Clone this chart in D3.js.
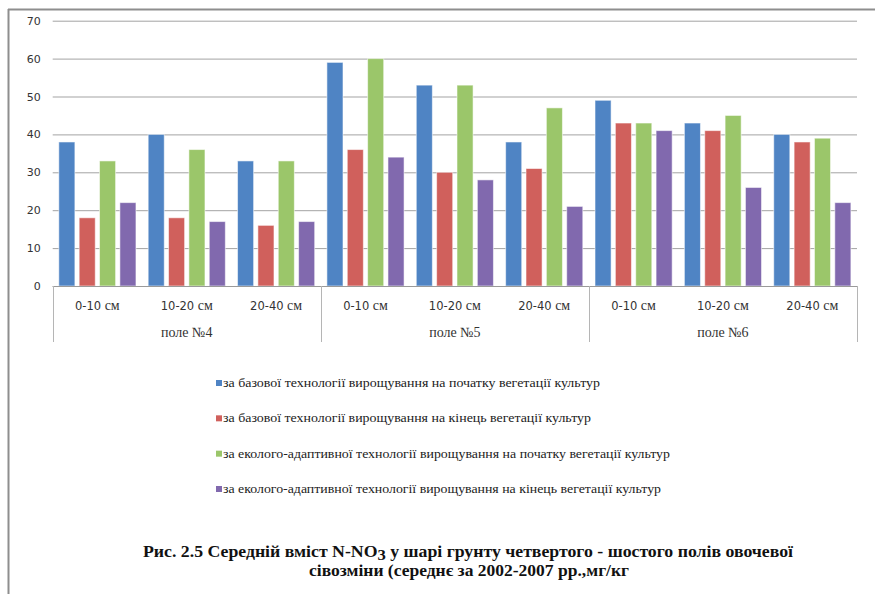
<!DOCTYPE html>
<html>
<head>
<meta charset="utf-8">
<script src="https://cdn.jsdelivr.net/npm/d3@7"></script>
<style>
  html, body { margin: 0; padding: 0; background: #fff; }
  svg { display: block; }
</style>
</head>
<body>
<svg id="chart" width="875" height="594"></svg>
<script>
// Depth layers within each field, and the fields themselves
const layers = ["0-10 см", "10-20 см", "20-40 см"];
const fields = ["поле №4", "поле №5", "поле №6"];

// N-NO3 content, mg/kg, one value per (field, layer) in field order
const baseStart = [38, 40, 33, 59, 53, 38, 49, 43, 40];
const baseEnd   = [18, 18, 16, 36, 30, 31, 43, 41, 38];
const ecoStart  = [33, 36, 33, 60, 53, 47, 43, 45, 39];
const ecoEnd    = [22, 17, 17, 34, 28, 21, 41, 26, 22];

const seriesNames = [
  "за базової технології вирощування  на початку вегетації культур",
  "за базової технології вирощування  на кінець вегетації культур",
  "за еколого-адаптивної технології вирощування на початку вегетації культур",
  "за еколого-адаптивної технології вирощування на кінець вегетації  культур"
];
const seriesColors = ["#4F84C4", "#D0605C", "#9BC66A", "#8169AE"];
const yTicks = [0, 10, 20, 30, 40, 50, 60, 70];

const SERIF = "Liberation Serif";
const SANS = "DejaVu Sans";

const series = [baseStart, baseEnd, ecoStart, ecoEnd].map((values, i) => ({
  name: seriesNames[i], color: seriesColors[i], values
}));

// Category keys: field|layer
const cats = [];
fields.forEach(f => layers.forEach(l => cats.push({ field: f, layer: l, key: f + "|" + l })));

const svg = d3.select("#chart");

// Outer frame (top and left edges)
svg.append("line").attr("x1", 8).attr("x2", 875).attr("y1", 9.5).attr("y2", 9.5)
  .attr("stroke", "#8e8e8e").attr("stroke-width", 2);
svg.append("line").attr("x1", 8.5).attr("x2", 8.5).attr("y1", 9).attr("y2", 594)
  .attr("stroke", "#8e8e8e").attr("stroke-width", 2);

const plot = { left: 52.7, right: 857, top: 20.7, bottom: 286 };

const x = d3.scaleBand().domain(cats.map(c => c.key))
  .range([plot.left, plot.right]).paddingInner(0).paddingOuter(0);
const xs = d3.scaleBand().domain(d3.range(series.length))
  .range([0, x.bandwidth()]).paddingInner(0.21).paddingOuter(0.3);
const y = d3.scaleLinear().domain([0, 70]).range([plot.bottom, plot.top]);

// Horizontal gridlines with value labels
const yAxis = d3.axisLeft(y).tickValues(yTicks).tickSize(-(plot.right - plot.left)).tickPadding(12);
const gy = svg.append("g").attr("transform", `translate(${plot.left},0)`).call(yAxis);
gy.select(".domain").remove();
gy.selectAll(".tick line").attr("stroke", "#a3a3a3").attr("stroke-width", 1);
gy.selectAll(".tick text").style("font-family", SANS)
  .style("font-size", "11px").attr("fill", "#333");

// Bars
const catG = svg.append("g").selectAll("g").data(cats).join("g")
  .attr("transform", d => `translate(${x(d.key)},0)`);
catG.selectAll("rect")
  .data((d, ci) => series.map((s, si) => ({ si, v: s.values[ci], color: s.color })))
  .join("rect")
  .attr("x", d => xs(d.si))
  .attr("width", xs.bandwidth())
  .attr("y", d => y(d.v))
  .attr("height", d => y(0) - y(d.v))
  .attr("fill", d => d.color)
  .attr("stroke", "#ffffff").attr("stroke-opacity", 0.55).attr("stroke-width", 1);

// Category axis line and field separators
svg.append("line").attr("x1", plot.left).attr("x2", plot.right)
  .attr("y1", plot.bottom + 0.5).attr("y2", plot.bottom + 0.5)
  .attr("stroke", "#9a9a9a").attr("stroke-width", 1);
const fieldEdges = fields.map(f => x(f + "|" + layers[0])).concat([plot.right]);
svg.append("g").selectAll("line").data(fieldEdges).join("line")
  .attr("x1", d => Math.round(d) + 0.5).attr("x2", d => Math.round(d) + 0.5)
  .attr("y1", plot.bottom).attr("y2", 342)
  .attr("stroke", "#b5b5b5").attr("stroke-width", 1);

// Layer labels: numeric part in sans, unit in serif
const layerText = svg.append("g").selectAll("text").data(cats).join("text")
  .attr("x", d => x(d.key) + x.bandwidth() / 2)
  .attr("y", 310)
  .attr("text-anchor", "middle")
  .attr("fill", "#333");
layerText.append("tspan").style("font-family", SANS).style("font-size", "11.5px")
  .text(d => d.layer.split(" ")[0]);
layerText.append("tspan").style("font-family", SERIF).style("font-size", "14px")
  .text(d => " " + d.layer.split(" ")[1]);

// Field labels
svg.append("g").selectAll("text").data(fields).join("text")
  .style("font-family", SERIF).style("font-size", "14px")
  .attr("x", (d, i) => (fieldEdges[i] + fieldEdges[i + 1]) / 2)
  .attr("y", 337)
  .attr("text-anchor", "middle")
  .attr("fill", "#333")
  .text(d => d);

// Legend, one entry per row
const legendY = d3.scaleLinear().domain([0, 3]).range([383, 489]);
const legendWidths = [377, 368, 447, 438];
const lg = svg.append("g").selectAll("g").data(series).join("g")
  .attr("transform", (d, i) => `translate(216,${legendY(i)})`);
lg.append("rect").attr("x", 0).attr("y", -3).attr("width", 6).attr("height", 6)
  .attr("fill", d => d.color);
lg.append("text").attr("x", 7).attr("y", 4)
  .style("font-family", SERIF).style("font-size", "12.5px")
  .attr("fill", "#222")
  .attr("textLength", (d, i) => legendWidths[i]).attr("lengthAdjust", "spacingAndGlyphs")
  .text(d => d.name);

// Figure caption
const cap = svg.append("g")
  .style("font-family", SERIF).style("font-weight", "bold").style("font-size", "16px")
  .attr("fill", "#111");
const c1 = cap.append("text").attr("x", 143).attr("y", 557)
  .attr("textLength", 650).attr("lengthAdjust", "spacingAndGlyphs");
c1.append("tspan").text("Рис. 2.5 Середній вміст N-NO");
c1.append("tspan").attr("dy", 3).style("font-size", "15px").text("3");
c1.append("tspan").attr("dy", -3).text(" у шарі грунту четвертого - шостого полів овочевої");
cap.append("text").attr("x", 309).attr("y", 576)
  .attr("textLength", 320).attr("lengthAdjust", "spacingAndGlyphs")
  .text("сівозміни (середнє за 2002-2007 рр.,мг/кг");
</script>
</body>
</html>
